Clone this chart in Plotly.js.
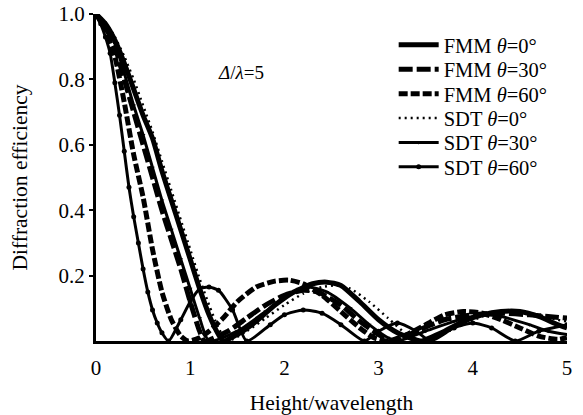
<!DOCTYPE html>
<html>
<head>
<meta charset="utf-8">
<script src="https://cdn.plot.ly/plotly-3.0.1.min.js"></script>
<style>html,body{margin:0;padding:0;background:#fff;}#chart{width:583px;height:415px;}</style>
</head>
<body>
<div id="chart"></div>
<script>
// Series names
const seriesNames = ["FMM <i>θ</i>=0°", "FMM <i>θ</i>=30°", "FMM <i>θ</i>=60°", "SDT <i>θ</i>=0°", "SDT <i>θ</i>=30°", "SDT <i>θ</i>=60°"];

// FMM theta=0
const fmm0X = [0,0.1,0.2,0.3,0.4,0.5,0.6,0.7,0.8,0.9,1.0,1.1,1.2,1.3,1.35,1.5,1.7,1.9,2.1,2.3,2.45,2.6,2.8,3.0,3.2,3.4,3.45,3.7,3.9,4.1,4.3,4.5,4.7,4.9,5.0];
const fmm0Y = [1.0,0.97,0.92,0.85,0.77,0.69,0.62,0.52,0.43,0.34,0.25,0.16,0.08,0.02,0,0.02,0.06,0.11,0.15,0.175,0.18,0.17,0.12,0.065,0.025,0.003,0,0.03,0.06,0.08,0.09,0.09,0.075,0.05,0.04];
// FMM theta=30
const fmm30X = [0,0.1,0.2,0.3,0.4,0.5,0.6,0.7,0.8,0.9,1.0,1.1,1.15,1.4,1.6,1.8,2.0,2.2,2.35,2.6,2.8,3.0,3.15,3.4,3.7,4.0,4.3,4.6,4.8,5.0];
const fmm30Y = [1.0,0.96,0.9,0.8,0.7,0.6,0.5,0.4,0.31,0.22,0.12,0.03,0,0.03,0.07,0.11,0.14,0.155,0.15,0.11,0.06,0.02,0,0.03,0.065,0.08,0.085,0.08,0.075,0.07];
// FMM theta=60
const fmm60X = [0,0.1,0.2,0.3,0.4,0.5,0.6,0.7,0.8,0.9,0.98,1.1,1.2,1.35,1.5,1.7,1.9,2.05,2.2,2.4,2.6,2.8,2.95,3.1,3.3,3.5,3.7,3.9,4.1,4.3,4.5,4.7,4.9,5.0];
const fmm60Y = [1.0,0.95,0.87,0.73,0.57,0.44,0.28,0.15,0.065,0.015,0,0.01,0.03,0.07,0.12,0.165,0.183,0.186,0.175,0.14,0.09,0.04,0.01,0,0.02,0.05,0.08,0.09,0.085,0.065,0.04,0.015,0.005,0.01];
// SDT theta=0
const sdt0X = [0,0.1,0.2,0.3,0.4,0.5,0.6,0.7,0.8,0.9,1.0,1.1,1.2,1.3,1.39,1.6,1.8,2.0,2.2,2.4,2.55,2.7,2.9,3.1,3.3,3.45,3.7,3.9,4.1,4.3,4.5,4.7,4.9,5.0];
const sdt0Y = [1.0,0.975,0.93,0.87,0.8,0.72,0.64,0.55,0.46,0.37,0.28,0.19,0.11,0.04,0,0.03,0.07,0.11,0.145,0.165,0.17,0.16,0.12,0.07,0.02,0,0.025,0.05,0.075,0.088,0.09,0.08,0.065,0.06];
// SDT theta=30
const sdt30X = [0,0.1,0.2,0.3,0.4,0.5,0.6,0.7,0.8,0.9,1.0,1.1,1.2,1.5,1.8,2.05,2.25,2.45,2.7,2.9,3.1,3.2,3.5,3.8,4.1,4.3,4.6,4.8,5.0];
const sdt30Y = [1.0,0.965,0.91,0.82,0.72,0.63,0.53,0.43,0.34,0.25,0.16,0.07,0,0.03,0.09,0.14,0.165,0.15,0.1,0.05,0.01,0,0.03,0.06,0.08,0.075,0.05,0.03,0.02];
// SDT theta=60
const sdt60X = [0,0.05,0.1,0.15,0.2,0.25,0.3,0.35,0.4,0.45,0.5,0.55,0.6,0.65,0.7,0.77,0.9,1.0,1.1,1.2,1.3,1.45,1.6,1.85,2.0,2.2,2.4,2.6,2.85,3.0,3.2,3.4,3.55,3.8,4.0,4.2,4.45,4.7,5.0];
const sdt60Y = [1.0,0.97,0.93,0.88,0.79,0.69,0.58,0.47,0.38,0.3,0.22,0.15,0.095,0.055,0.025,0,0.065,0.12,0.16,0.165,0.155,0.095,0,0.05,0.08,0.095,0.085,0.05,0,0.03,0.055,0.03,0,0.04,0.055,0.04,0,0.03,0.05];

const xTickVals = [0,1,2,3,4,5];
const yTickVals = [0.2,0.4,0.6,0.8,1.0];
const yTickText = ["0.2","0.4","0.6","0.8","1.0"];

const serif = "Liberation Serif, Times New Roman, serif";

function tr(x, y, name, idx, line, extra) {
  return Object.assign({x: x, y: y, name: name, type: 'scatter', mode: 'lines',
    legend: idx === 0 ? 'legend' : 'legend' + (idx + 1),
    line: Object.assign({color: '#000', shape: 'spline', smoothing: 0.6}, line)}, extra || {});
}

const data = [
  tr(fmm0X, fmm0Y, seriesNames[0], 0, {width: 5}),
  tr(fmm30X, fmm30Y, seriesNames[1], 1, {width: 5, dash: '14px,4px'}),
  tr(fmm60X, fmm60Y, seriesNames[2], 2, {width: 5, dash: '9px,3px'}),
  tr(sdt0X, sdt0Y, seriesNames[3], 3, {width: 2.5, dash: '2px,4px'}),
  tr(sdt30X, sdt30Y, seriesNames[4], 4, {width: 3}, {mode: 'lines+markers', marker: {symbol: 'triangle-down', size: 4, color: '#000'}}),
  tr(sdt60X, sdt60Y, seriesNames[5], 5, {width: 3}, {mode: 'lines+markers', marker: {symbol: 'circle', size: 5, color: '#000'}})
];

const layout = {
  width: 583, height: 415,
  margin: {l: 96, r: 16, t: 14, b: 74},
  paper_bgcolor: '#fff', plot_bgcolor: '#fff',
  font: {family: serif, color: '#000', size: 20},
  showlegend: true,
  xaxis: {range: [0, 5], tickvals: xTickVals, ticktext: xTickVals.map(String), showgrid: false, zeroline: false,
    showline: true, linewidth: 3, linecolor: '#000', ticks: '', ticklen: 0, ticklabelstandoff: 6,
    tickfont: {family: serif, size: 21},
    title: {text: 'Height/wavelength', font: {family: serif, size: 21.5}, standoff: 22}},
  yaxis: {range: [0, 1.0], tickvals: yTickVals, ticktext: yTickText, showgrid: false, zeroline: false,
    showline: true, linewidth: 3, linecolor: '#000', ticks: 'outside', ticklen: 4, tickwidth: 2, tickcolor: '#000',
    tickfont: {family: serif, size: 21},
    title: {text: 'Diffraction efficiency', font: {family: serif, size: 21.5}, standoff: 26}},
  annotations: [{x: 1.54, y: 0.82, xref: 'x', yref: 'y', showarrow: false,
    text: '<i>Δ</i>/<i>λ</i>=5', font: {family: serif, size: 19, color: '#000'}}]
};

// one legend box per row so the rows sit as tightly as in the reference
const legendRowsPx = [45, 69.4, 93.8, 118.2, 142.6, 167];
legendRowsPx.forEach(function (py, i) {
  const key = i === 0 ? 'legend' : 'legend' + (i + 1);
  layout[key] = {x: 0.632, y: (341 - py) / 327, xanchor: 'left', yanchor: 'middle',
    bgcolor: 'rgba(0,0,0,0)', font: {family: serif, size: 20.5}, itemwidth: 40};
});

Plotly.newPlot('chart', data, layout, {displayModeBar: false, staticPlot: true});
</script>
</body>
</html>
